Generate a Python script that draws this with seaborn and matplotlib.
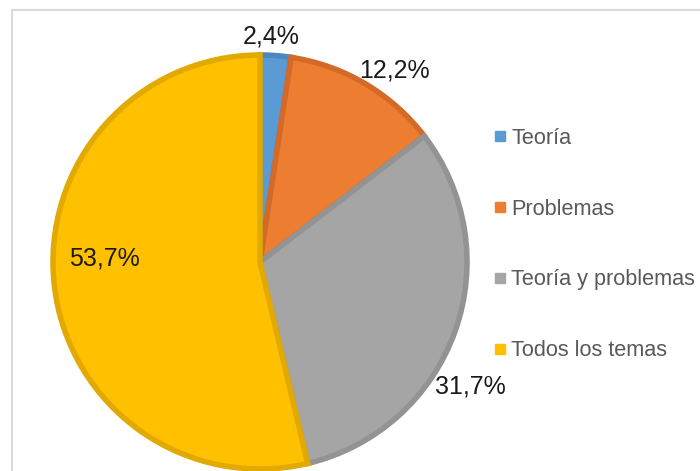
import numpy as np
import seaborn as sns
import matplotlib.pyplot as plt
from matplotlib.lines import Line2D
from matplotlib.patches import Rectangle

categorias = ["Teoría", "Problemas", "Teoría y problemas", "Todos los temas"]
porcentajes = [2.4, 12.2, 31.7, 53.7]
etiquetas = ["2,4%", "12,2%", "31,7%", "53,7%"]

sns.set_theme(style="white")
plt.rcParams['font.family'] = ['Liberation Sans', 'DejaVu Sans']

colores = ["#5B9BD5", "#ED7D31", "#A5A5A5", "#FFC000"]
bordes = ["#4C88BF", "#D46A28", "#939393", "#E2AA00"]

fig = plt.figure(figsize=(7, 4.71), dpi=100)
ax = fig.add_axes([53 / 700, 2 / 471, 414 / 700, 414 / 471])

wedges, _ = ax.pie(porcentajes, colors=colores, startangle=90, counterclock=False,
                   radius=1, wedgeprops=dict(linewidth=4))
for w, b in zip(wedges, bordes):
    w.set_edgecolor(b)

# label placement (distance from centre, angle shift in degrees)
dist = [1.09, 1.13, 1.18, 0.75]
shift = [1.5, -4.5, -11, -8]
for w, txt, d, s in zip(wedges, etiquetas, dist, shift):
    ang = np.deg2rad((w.theta1 + w.theta2) / 2 + s)
    ax.text(d * np.cos(ang), d * np.sin(ang), txt, ha="center", va="center",
            fontsize=18, color="#1a1a1a")
ax.set_xlim(-1, 1)
ax.set_ylim(-1, 1)
ax.set_aspect("equal")
ax.axis("off")

handles = [Line2D([], [], marker="s", linestyle="", markersize=6.5,
                  markerfacecolor=c, markeredgecolor=c) for c in colores]
leg = fig.legend(handles, categorias, loc="center left", bbox_to_anchor=(0.69, 0.481),
                 frameon=False, fontsize=15.6, labelspacing=2.3, handlelength=0.55,
                 handletextpad=0.25, borderpad=0)
for t in leg.get_texts():
    t.set_color("#595959")

fig.add_artist(Rectangle((12 / 700, -0.05), 1.0, 0.978 + 0.05, transform=fig.transFigure,
                         fill=False, edgecolor="#D9D9D9", linewidth=1.5))

fig.savefig("out.png", dpi=100)
